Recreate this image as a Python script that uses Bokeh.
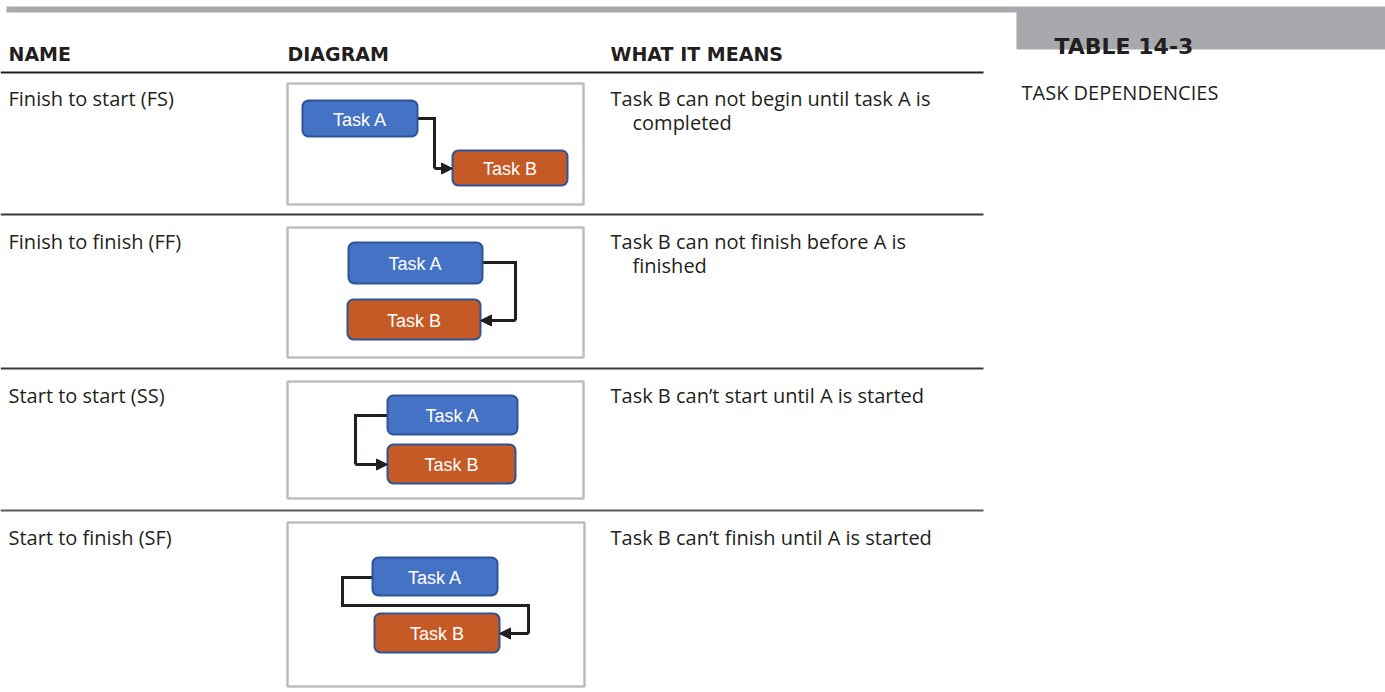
from bokeh.plotting import figure
from bokeh.models import Arrow, NormalHead, Range1d
from bokeh.core.properties import value
from bokeh.embed import file_html
from bokeh.resources import INLINE

# ---------------- content ----------------
headers = ["NAME", "DIAGRAM", "WHAT IT MEANS"]
names = ["Finish to start (FS)", "Finish to finish (FF)",
         "Start to start (SS)", "Start to finish (SF)"]
meanings_line1 = ["Task B can not begin until task A is",
                  "Task B can not finish before A is",
                  "Task B can\u2019t start until A is started",
                  "Task B can\u2019t finish until A is started"]
meanings_line2 = ["completed", "finished", "", ""]
task_labels = ["Task A", "Task B"]
table_number = "TABLE 14-3"
table_title = "TASK DEPENDENCIES"

# ---------------- layout (reference pixel coordinates) ----------------
col_x = [8, 287, 610]
header_baseline = 53
rule_ys = [72, 214, 368, 510]
rule_colors = ["#231F20", "#3a3a3a", "#3a3a3a", "#5a5a5c"]
row_baselines = [98, 241, 395, 537]
indent_x = 632
line_gap = 24

diag_boxes = [(287, 583, 83, 204), (287, 583, 227, 357),
              (287, 583, 381, 498), (287, 584, 522, 686)]
task_a = [(302, 417, 100, 136), (348, 482, 242, 283),
          (387, 517, 395, 434), (372, 497, 557, 595)]
task_b = [(452, 567, 150, 185), (347, 480, 299, 339),
          (387, 515, 444, 483), (374, 499, 613, 652)]
connectors = [
    [(417, 118), (434, 118), (434, 168), (452, 168)],
    [(482, 262), (515, 262), (515, 320), (480, 320)],
    [(387, 415), (355, 415), (355, 464), (387, 464)],
    [(372, 577), (342, 577), (342, 605), (528, 605), (528, 633), (499, 633)],
]

TXT = "#231F20"
GRAY = "#A7A9AC"
BLUE = "#4472C4"
ORANGE = "#C55A27"
EDGE = "#2F5597"

p = figure(width=1385, height=692, x_range=Range1d(0, 1385), y_range=Range1d(692, 0),
           toolbar_location=None, output_backend="svg", min_border=0,
           background_fill_color="white", border_fill_color="white")
p.axis.visible = False
p.grid.visible = False
p.outline_line_color = None

# top bar and table box
p.quad(left=[6], right=[1385], top=[6], bottom=[12], fill_color=GRAY, line_color=None)
p.quad(left=[1016], right=[1385], top=[11], bottom=[49], fill_color=GRAY, line_color=None)
p.text(x=[1054], y=[46], text=[table_number], text_font=value("DejaVu Sans"),
       text_font_style="bold", text_font_size="22px", text_color=TXT,
       text_baseline="alphabetic", text_align="left")
p.text(x=[1021], y=[92], text=[table_title], text_font=value("Open Sans"),
       text_font_size="20px", text_color=TXT, text_baseline="alphabetic", text_align="left")

# headers
p.text(x=col_x, y=[header_baseline] * 3, text=headers, text_font=value("DejaVu Sans"),
       text_font_style="bold", text_font_size="19px", text_color=TXT,
       text_baseline="alphabetic", text_align="left")

# rules
for ry, rc in zip(rule_ys, rule_colors):
    p.line(x=[0, 983], y=[ry, ry], line_color=rc, line_width=1.8)

# row texts
p.text(x=[col_x[0]] * 4, y=row_baselines, text=names, text_font=value("Open Sans"),
       text_font_size="20px", text_color=TXT, text_baseline="alphabetic", text_align="left")
p.text(x=[col_x[2]] * 4, y=row_baselines, text=meanings_line1, text_font=value("Open Sans"),
       text_font_size="20px", text_color=TXT, text_baseline="alphabetic", text_align="left")
p.text(x=[indent_x] * 4, y=[b + line_gap for b in row_baselines], text=meanings_line2,
       text_font=value("Open Sans"), text_font_size="20px", text_color=TXT,
       text_baseline="alphabetic", text_align="left")

# diagram frames
p.quad(left=[b[0] for b in diag_boxes], right=[b[1] for b in diag_boxes],
       top=[b[2] for b in diag_boxes], bottom=[b[3] for b in diag_boxes],
       fill_color="white", line_color="#BCBEC0", line_width=2.5)

# connectors
for pts in connectors:
    xs = [pt[0] for pt in pts[:-1]]
    ys = [pt[1] for pt in pts[:-1]]
    p.line(x=xs, y=ys, line_color=TXT, line_width=3, line_join="miter")
    (x0, y0), (x1, y1) = pts[-2], pts[-1]
    p.add_layout(Arrow(x_start=x0, y_start=y0, x_end=x1, y_end=y1, line_color=TXT,
                       line_width=3,
                       end=NormalHead(size=11, fill_color=TXT, line_color=TXT, line_width=1)))

# task boxes
for boxes, col, lab in ((task_a, BLUE, task_labels[0]), (task_b, ORANGE, task_labels[1])):
    p.quad(left=[b[0] for b in boxes], right=[b[1] for b in boxes],
           top=[b[2] for b in boxes], bottom=[b[3] for b in boxes],
           fill_color=col, line_color=EDGE, line_width=2, border_radius=6)
    p.text(x=[(b[0] + b[1]) / 2 for b in boxes], y=[(b[2] + b[3]) / 2 + 1 for b in boxes],
           text=[lab] * len(boxes), text_font=value("Liberation Sans"),
           text_font_size="18px", text_color="white", text_align="center",
           text_baseline="middle")

open("out.html", "w").write(file_html(p, INLINE))
